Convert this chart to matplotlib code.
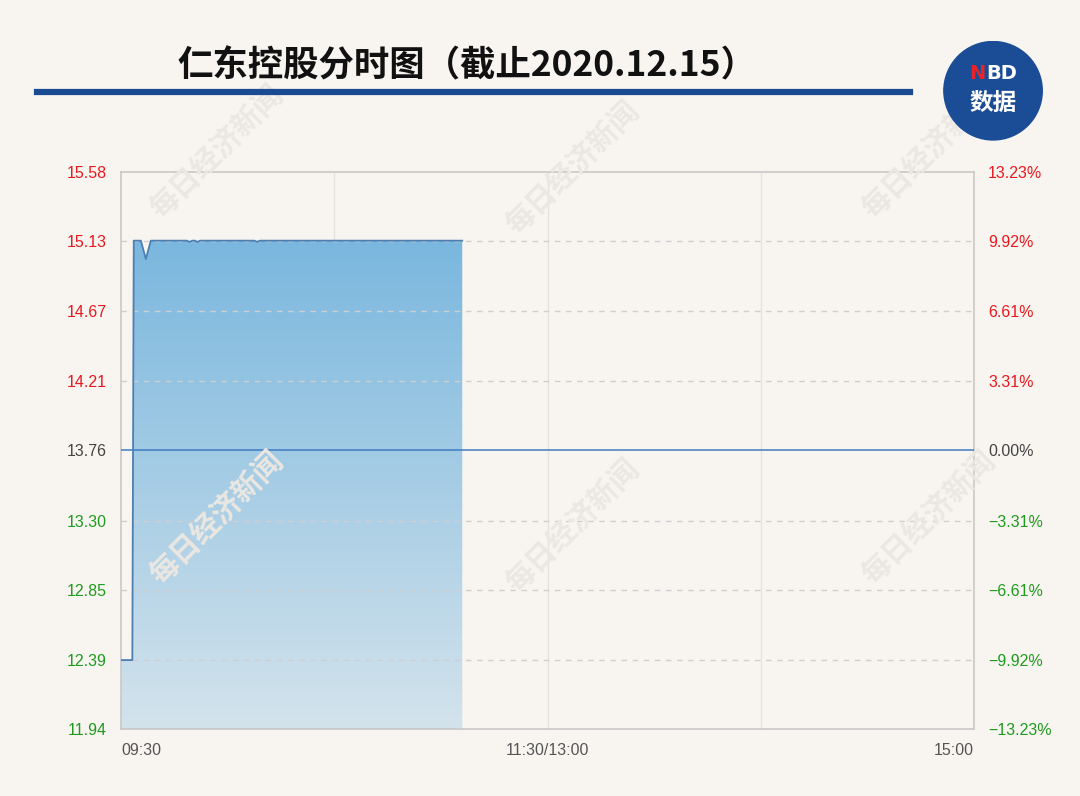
import matplotlib.pyplot as plt
import numpy as np
from matplotlib.patches import Circle
from matplotlib.colors import LinearSegmentedColormap

plt.rcParams['font.family'] = ['Noto Sans CJK SC', 'DejaVu Sans']

# minutes since 09:30 (trading minutes, 240 total) and price
minutes = [0, 3.2, 3.6, 5.6, 7.0, 8.4, 18.5, 19.3, 20.1, 20.8, 21.5, 22.3, 37.5, 38.3, 39.1, 96]
prices = [12.39, 12.39, 15.13, 15.13, 15.01, 15.13, 15.13, 15.122, 15.13, 15.13, 15.122, 15.13, 15.13, 15.122, 15.13, 15.13]

prev_close = 13.76
price_ticks = [11.94, 12.39, 12.85, 13.30, 13.76, 14.21, 14.67, 15.13, 15.58]
pct_labels = ['−13.23%', '−9.92%', '−6.61%', '−3.31%', '0.00%', '3.31%', '6.61%', '9.92%', '13.23%']
time_labels = ['09:30', '11:30/13:00', '15:00']

bg = '#f8f5f1'
red = '#e8191e'
green = '#1e9a1e'
grey = '#444444'

fig = plt.figure(figsize=(10.8, 7.96), dpi=100)
fig.patch.set_facecolor(bg)

# watermark
for wx, wy in [(0.20, 0.81), (0.53, 0.79), (0.86, 0.81), (0.20, 0.35), (0.53, 0.34), (0.86, 0.35)]:
    fig.text(wx, wy, '每日经济新闻', fontsize=21, color='#ebe7e2', rotation=45,
             ha='center', va='center', fontweight='bold', zorder=0)

# title
fig.text(0.432, 0.917, '仁东控股分时图（截止2020.12.15）', fontsize=25.5, fontweight='bold',
         ha='center', va='center', color='#111111')
fig.add_artist(plt.Line2D([0.034, 0.843], [0.885, 0.885], color='#1a4a92', linewidth=4.5,
                          transform=fig.transFigure))

# logo
logo = fig.add_axes([0.873, 0.822, 0.093, 0.128])
logo.set_zorder(5)
logo.set_xlim(0, 1)
logo.set_ylim(0, 1)
logo.set_aspect('equal')
logo.axis('off')
logo.add_patch(Circle((0.5, 0.5), 0.49, color='#1b4c96'))
logo.text(0.345, 0.67, 'N', color='#e8232a', fontsize=14, fontweight='bold', ha='center', va='center',
          family='DejaVu Sans')
logo.text(0.585, 0.67, 'BD', color='white', fontsize=14, fontweight='bold', ha='center', va='center',
          family='DejaVu Sans')
logo.text(0.5, 0.38, '数据', color='white', fontsize=17, fontweight='bold', ha='center', va='center')

ax = fig.add_axes([0.112, 0.0842, 0.790, 0.7000])
ax.set_facecolor('none')
ax.set_xlim(0, 240)
ax.set_ylim(price_ticks[0], price_ticks[-1])

# gradient fill under the line
poly = ax.fill_between(minutes, prices, price_ticks[0], color='none')
grad = np.linspace(0, 1, 256).reshape(-1, 1)
cmap = LinearSegmentedColormap.from_list('g', ['#d3e3ec', '#78b6de'])
img = ax.imshow(grad, cmap=cmap, aspect='auto', origin='lower',
                extent=[0, 240, price_ticks[0], 15.2], zorder=1)
img.set_clip_path(poly.get_paths()[0], transform=ax.transData)
ax.plot(minutes, prices, color='#4d7fb3', linewidth=1.3, zorder=3)

# grid
for p in price_ticks[1:-1]:
    if p == prev_close:
        ax.axhline(p, color='#3f7cc0', linewidth=1.1, zorder=4)
    else:
        ax.axhline(p, color='#cfcfcf', linewidth=1, linestyle=(0, (4, 4)), zorder=2)
for m in [60, 120, 180]:
    ax.axvline(m, color='#e6e3df', linewidth=1, zorder=0.5)

for s in ax.spines.values():
    s.set_color('#c8c8c8')
    s.set_linewidth(1.2)

ax.set_yticks(price_ticks)
ax.set_yticklabels(['%.2f' % p for p in price_ticks], fontsize=11.5, family=['Liberation Sans', 'DejaVu Sans'])
for lbl, p in zip(ax.get_yticklabels(), price_ticks):
    lbl.set_color(red if p > prev_close else (green if p < prev_close else grey))
ax.tick_params(axis='y', length=0, pad=10)

ax2 = ax.twinx()
ax2.set_ylim(price_ticks[0], price_ticks[-1])
ax2.set_yticks(price_ticks)
ax2.set_yticklabels(pct_labels, fontsize=11.5, family=['Liberation Sans', 'DejaVu Sans'])
for lbl, p in zip(ax2.get_yticklabels(), price_ticks):
    lbl.set_color(red if p > prev_close else (green if p < prev_close else grey))
ax2.tick_params(axis='y', length=0, pad=10)
for s in ax2.spines.values():
    s.set_visible(False)

ax.set_xticks([0, 120, 240])
ax.set_xticklabels(time_labels, fontsize=11.5, color='#555555', family=['Liberation Sans', 'DejaVu Sans'])
ax.tick_params(axis='x', length=0, pad=10)
xl = ax.get_xticklabels()
xl[0].set_ha('left')
xl[2].set_ha('right')

fig.savefig('out.png', dpi=100, facecolor=bg)
